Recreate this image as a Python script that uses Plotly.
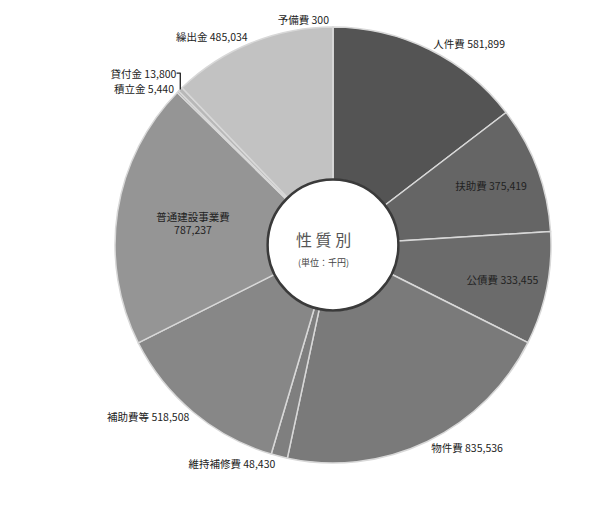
import plotly.graph_objects as go

categories = ["人件費", "扶助費", "公債費", "物件費", "維持補修費", "補助費等",
              "普通建設事業費", "積立金", "貸付金", "繰出金", "予備費"]
values = [581899, 375419, 333455, 835536, 48430, 518508,
          787237, 5440, 13800, 485034, 300]
colors = ["#545454", "#656565", "#6b6b6b", "#7a7a7a", "#7f7f7f", "#878787",
          "#959595", "#8a8a8a", "#b8b8b8", "#c2c2c2", "#d0d0d0"]
positions = ["outside", "inside", "inside", "outside", "outside", "outside",
             "inside", "outside", "outside", "outside", "outside"]
templates = ["%{label} %{value:,}"] * 6 + ["%{label}<br>%{value:,}"] + ["%{label} %{value:,}"] * 4

W, H = 605, 518
cx, cy, R = 325, 237, 218
dom_x = [(cx - R) / W, (cx + R) / W]
dom_y = [(H - cy - R) / H, (H - cy + R) / H]
hole = 0.30
FONT = "Noto Sans CJK JP"

fig = go.Figure(go.Pie(
    labels=categories, values=values, sort=False, direction="clockwise",
    rotation=0, hole=hole,
    marker=dict(colors=colors, line=dict(color="#d8d8d8", width=1.5)),
    textposition=positions, texttemplate=templates,
    textfont=dict(family=FONT, size=10.5, color="#222222"),
    insidetextorientation="horizontal",
    domain=dict(x=dom_x, y=dom_y), showlegend=False,
))

hr = R * hole
fig.add_shape(type="circle", xref="paper", yref="paper",
              x0=(cx - hr) / W, x1=(cx + hr) / W,
              y0=(H - cy - hr) / H, y1=(H - cy + hr) / H,
              line=dict(color="#3a3a3a", width=2.5), fillcolor="rgba(0,0,0,0)")
fig.add_annotation(text="性 質 別", x=(cx - 10) / W, y=(H - cy + 6) / H,
                   xref="paper", yref="paper", showarrow=False,
                   font=dict(family=FONT, size=16, color="#555555"))
fig.add_annotation(text="(単位：千円)", x=(cx - 10) / W, y=(H - cy - 17) / H,
                   xref="paper", yref="paper", showarrow=False,
                   font=dict(family=FONT, size=9, color="#444444"))

fig.update_layout(width=W, height=H, margin=dict(l=0, r=0, t=0, b=0),
                  paper_bgcolor="white", plot_bgcolor="white",
                  uniformtext=dict(minsize=8))
fig.write_html("out.html")
